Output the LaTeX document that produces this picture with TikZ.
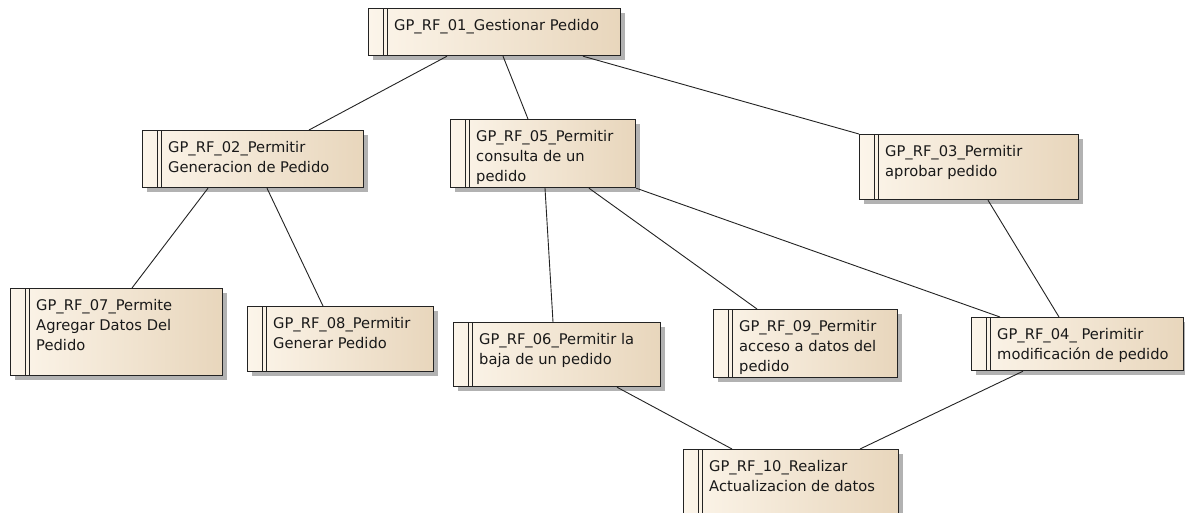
\documentclass[tikz,border=0pt]{standalone}
\usepackage{fontspec}
\setmainfont{DejaVu Sans}
\usetikzlibrary{shadows}
\definecolor{reqL}{RGB}{252,245,234}
\definecolor{reqR}{RGB}{232,214,188}
\definecolor{edgec}{RGB}{35,35,35}
\begin{document}
\begin{tikzpicture}[x=1pt,y=-1pt,
  req/.style={draw=edgec, line width=1.2pt, rectangle, inner sep=0pt, anchor=north west,
    left color=reqL, right color=reqR,
    drop shadow={shadow xshift=4pt, shadow yshift=-4pt, fill=black!30, opacity=1},
    path picture={
      \draw[edgec, line width=1pt] ([xshift=15pt]path picture bounding box.north west) -- ([xshift=15pt]path picture bounding box.south west);
      \draw[edgec, line width=1pt] ([xshift=18.5pt]path picture bounding box.north west) -- ([xshift=18.5pt]path picture bounding box.south west);
    }},
  lbl/.style={anchor=north west, inner sep=0pt, align=left, font=\fontsize{14.7}{20}\selectfont, text=black!90},
  link/.style={draw=edgec, line width=0.9pt}]
\useasboundingbox (0,0) rectangle (1185,512);
\clip (0,0) rectangle (1185,512);
\fill[white] (0,0) rectangle (1185,512);

\node[req, minimum width=252pt, minimum height=47pt] (n01) at (368,8) {};
\node[req, minimum width=221pt, minimum height=57pt] (n02) at (142,130) {};
\node[req, minimum width=185pt, minimum height=68pt] (n05) at (450,119) {};
\node[req, minimum width=219pt, minimum height=65pt] (n03) at (859,134) {};
\node[req, minimum width=212pt, minimum height=87pt] (n07) at (10,288) {};
\node[req, minimum width=186pt, minimum height=65pt] (n08) at (247,306) {};
\node[req, minimum width=207pt, minimum height=64pt] (n06) at (453,322) {};
\node[req, minimum width=184pt, minimum height=68pt] (n09) at (713,309) {};
\node[req, minimum width=212pt, minimum height=53pt] (n04) at (971,317) {};
\node[req, minimum width=215pt, minimum height=80pt] (n10) at (683,449) {};

\node[lbl] (t01) at ([shift={(26pt,-7pt)}]n01.north west) {\rule{0pt}{15pt}GP\_RF\_01\_Gestionar Pedido};
\node[lbl] (t02) at ([shift={(26pt,-7pt)}]n02.north west) {\rule{0pt}{15pt}GP\_RF\_02\_Permitir\\Generacion de Pedido};
\node[lbl] (t05) at ([shift={(26pt,-7pt)}]n05.north west) {\rule{0pt}{15pt}GP\_RF\_05\_Permitir\\consulta de un\\pedido};
\node[lbl] (t03) at ([shift={(26pt,-7pt)}]n03.north west) {\rule{0pt}{15pt}GP\_RF\_03\_Permitir\\aprobar pedido};
\node[lbl] (t07) at ([shift={(26pt,-7pt)}]n07.north west) {\rule{0pt}{15pt}GP\_RF\_07\_Permite\\Agregar Datos Del\\Pedido};
\node[lbl] (t08) at ([shift={(26pt,-7pt)}]n08.north west) {\rule{0pt}{15pt}GP\_RF\_08\_Permitir\\Generar Pedido};
\node[lbl] (t06) at ([shift={(26pt,-7pt)}]n06.north west) {\rule{0pt}{15pt}GP\_RF\_06\_Permitir la\\baja de un pedido};
\node[lbl] (t09) at ([shift={(26pt,-7pt)}]n09.north west) {\rule{0pt}{15pt}GP\_RF\_09\_Permitir\\acceso a datos del\\pedido};
\node[lbl] (t04) at ([shift={(26pt,-7pt)}]n04.north west) {\rule{0pt}{15pt}GP\_RF\_04\_ Perimitir\\modificación de pedido};
\node[lbl] (t10) at ([shift={(26pt,-7pt)}]n10.north west) {\rule{0pt}{15pt}GP\_RF\_10\_Realizar\\Actualizacion de datos};

\draw[link] ([xshift=79pt]n01.south west) -- ([xshift=167pt]n02.north west);
\draw[link] ([xshift=135pt]n01.south west) -- ([xshift=78pt]n05.north west);
\draw[link] ([xshift=215pt]n01.south west) -- (n03.north west);
\draw[link] ([xshift=66pt]n02.south west) -- ([xshift=122pt]n07.north west);
\draw[link] ([xshift=125pt]n02.south west) -- ([xshift=76pt]n08.north west);
\draw[link] ([xshift=95pt]n05.south west) -- ([xshift=100pt]n06.north west);
\draw[link] ([xshift=139pt]n05.south west) -- ([xshift=44pt]n09.north west);
\draw[link] (n05.south east) -- ([xshift=29pt]n04.north west);
\draw[link] ([xshift=129pt]n03.south west) -- ([xshift=88pt]n04.north west);
\draw[link] ([xshift=164pt]n06.south west) -- ([xshift=49pt]n10.north west);
\draw[link] ([xshift=52pt]n04.south west) -- ([xshift=177pt]n10.north west);
\end{tikzpicture}
\end{document}
